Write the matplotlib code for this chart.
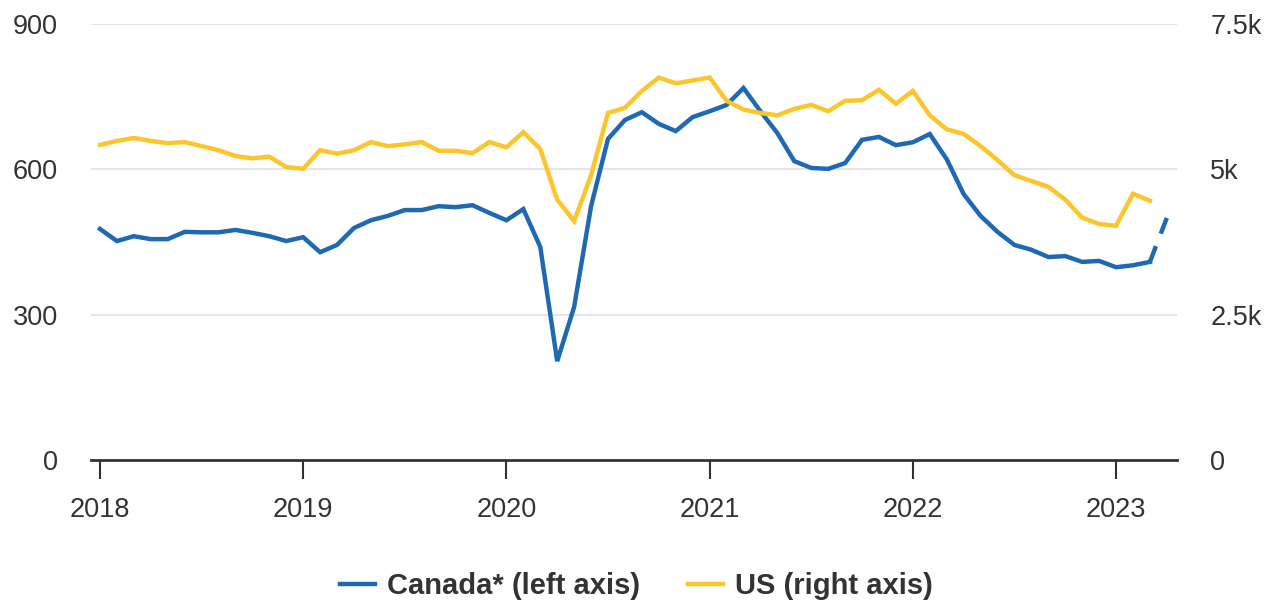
import numpy as np
import matplotlib.pyplot as plt
from matplotlib.ticker import FuncFormatter

plt.rcParams['font.family'] = ['Liberation Sans', 'DejaVu Sans']

# monthly, starting Jan 2018
canada = [477, 452, 462, 456, 456, 471, 470, 470, 475, 469, 462, 452,
          460, 429, 444, 479, 495, 504, 516, 516, 524, 522, 526, 510,
          495, 518, 440, 204, 316, 524, 663, 702, 718, 694, 679, 708,
          720, 733, 768, 720, 675, 617, 603, 601, 613, 661, 667, 650,
          656, 673, 621, 549, 504, 471, 444, 434, 419, 421, 409, 411,
          398, 402, 409, 500]
# US (right axis)
us = [5420, 5490, 5540, 5490, 5450, 5470, 5400, 5330, 5230, 5190, 5220, 5040,
      5010, 5330, 5270, 5330, 5470, 5400, 5430, 5470, 5320, 5320, 5280, 5470,
      5380, 5640, 5350, 4480, 4110, 4900, 5970, 6060, 6350, 6580, 6480, 6530,
      6580, 6180, 6030, 5970, 5930, 6040, 6110, 6000, 6180, 6190, 6370, 6130,
      6350, 5930, 5690, 5610, 5400, 5160, 4900, 4800, 4700, 4480, 4170, 4060,
      4030, 4580, 4460]

blue = '#1f69b4'
yellow = '#fdc52c'
txtc = '#333333'

t_can = 2018 + np.arange(len(canada)) / 12
t_us = 2018 + np.arange(len(us)) / 12

fig = plt.figure(figsize=(12.73, 6.02), dpi=100)
ax = fig.add_axes([0.0715, 0.2359, 0.8531, 0.7241])
ax2 = ax.twinx()

# last Canada month is preliminary -> dashed
ax.plot(t_can[:-1], canada[:-1], color=blue, lw=3.2, solid_joinstyle='miter', zorder=3)
ax.plot(t_can[-2:], canada[-2:], color=blue, lw=3.2, ls=(0, (3.8, 3)), zorder=3)
ax2.plot(t_us, us, color=yellow, lw=3.2, solid_joinstyle='miter', zorder=2)

ax.set_xlim(2017.956, 2023.30)
ax.set_ylim(0, 900)
ax2.set_ylim(0, 7500)
ax.set_yticks([0, 300, 600, 900])
ax2.set_yticks([0, 2500, 5000, 7500])
ax2.yaxis.set_major_formatter(FuncFormatter(
    lambda v, p: '0' if v == 0 else ('%gk' % (v / 1000))))
ax.set_xticks(range(2018, 2024))

ax.grid(axis='y', color='#e3e3e3', lw=1.3)
ax.set_axisbelow(True)
for a in (ax, ax2):
    for s in a.spines.values():
        s.set_visible(False)
ax.spines['bottom'].set_visible(True)
ax.spines['bottom'].set_color(txtc)
ax.spines['bottom'].set_linewidth(2)

ax.tick_params(axis='y', length=0, pad=24, labelsize=19.5, labelcolor=txtc)
ax2.tick_params(axis='y', length=0, pad=24, labelsize=19.5, labelcolor=txtc)
ax.tick_params(axis='x', length=13.5, width=1.5, color=txtc, pad=13,
               labelsize=19.5, labelcolor=txtc)

h1, = ax.plot([], [], color=blue, lw=3.2)
h2, = ax.plot([], [], color=yellow, lw=3.2)
leg = fig.legend([h1, h2], ['Canada* (left axis)', 'US (right axis)'],
                 loc='center', bbox_to_anchor=(0.5, 0.026), ncol=2,
                 frameon=False, handlelength=1.2, columnspacing=1.65,
                 handletextpad=0.42, borderpad=0, borderaxespad=0,
                 prop={'weight': 'bold', 'size': 21})
for txt in leg.get_texts():
    txt.set_color(txtc)

fig.savefig('out.png', dpi=100)
